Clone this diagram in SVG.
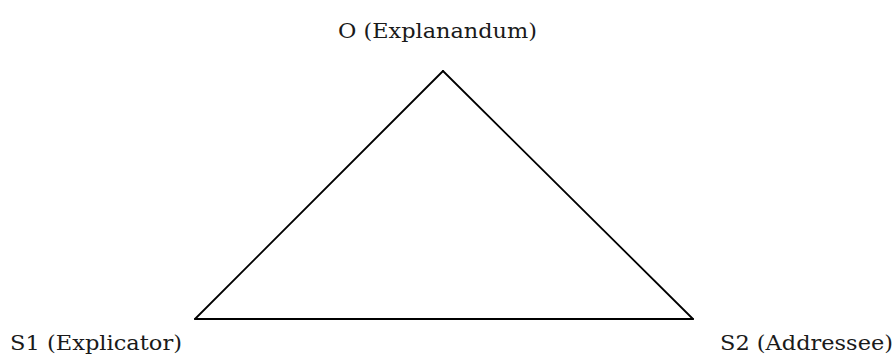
<svg xmlns="http://www.w3.org/2000/svg" width="896" height="356" viewBox="0 0 896 356">
<style>
.lbl{font-family:"DejaVu Serif","Liberation Serif",serif;font-size:21px;fill:#1a1a1a}
.edge{stroke:#000;stroke-width:1.8;fill:none;stroke-linecap:round}
</style>
<rect width="896" height="356" fill="#fff"/>
<g id="connectors">
<line class="edge" x1="443" y1="71" x2="195" y2="319"/>
<line class="edge" x1="443" y1="71" x2="693" y2="319"/>
<line class="edge" x1="195" y1="319" x2="693" y2="319"/>
</g>
<g id="node-O"><text class="lbl" x="338" y="38" textLength="199" lengthAdjust="spacingAndGlyphs">O (Explanandum)</text></g>
<g id="node-S1"><text class="lbl" x="10" y="350" textLength="172" lengthAdjust="spacingAndGlyphs">S1 (Explicator)</text></g>
<g id="node-S2"><text class="lbl" x="720" y="350" textLength="173" lengthAdjust="spacingAndGlyphs">S2 (Addressee)</text></g>
</svg>
